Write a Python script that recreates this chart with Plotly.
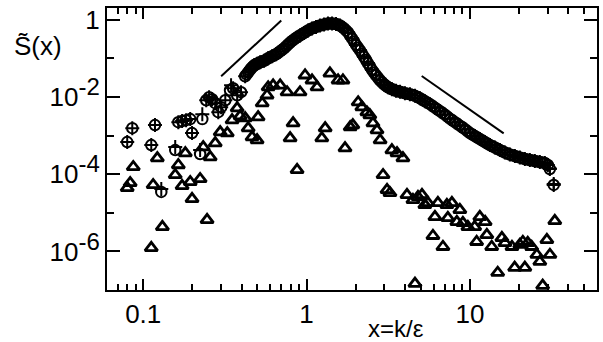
import plotly.graph_objects as go

# ---------------- data ----------------
# scattered low-x points of the circle series
circ_x_low = [0.0798, 0.0857, 0.112, 0.118, 0.129, 0.157, 0.164, 0.173, 0.183, 0.194,
              0.199, 0.223, 0.230, 0.243, 0.253, 0.264, 0.276, 0.288, 0.300, 0.318,
              0.340, 0.355, 0.376, 0.397]
circ_y_low = [0.000679, 0.00156, 0.000568, 0.00187, 3.48e-5, 0.000422, 0.00223, 0.00237, 0.00251, 0.00267,
              0.00116, 0.000333, 0.00267, 0.00824, 0.00986, 0.00875, 0.00690, 0.00404, 0.00544, 0.00824,
              0.0150, 0.0168, 0.0111, 0.0133]
# dense part of the circle series (read along the band)
circ_x_dense = [0.4206, 0.4387, 0.4576, 0.4774, 0.4980, 0.5195, 0.5496, 0.5814, 0.6152, 0.6509,
                0.6886, 0.7285, 0.7707, 0.8153, 0.8626, 0.9126, 0.9654, 1.021, 1.080, 1.143,
                1.209, 1.279, 1.353, 1.432, 1.515, 1.603, 1.696, 1.794, 1.898, 2.008,
                2.124, 2.247, 2.377, 2.515, 2.661, 2.815, 2.979, 3.151, 3.334, 3.527,
                3.732, 4.004, 4.295, 4.608, 4.946, 5.306, 5.692, 6.108, 6.554, 7.033,
                7.544, 8.093, 8.686, 9.320, 10.0, 10.73, 11.51, 12.35, 13.26, 14.22,
                15.26, 16.37, 17.57, 18.85, 20.22, 21.70, 23.28, 24.98, 26.80, 28.76,
                30.00, 30.86, 32.6]
circ_y_dense = [0.03436, 0.04357, 0.05529, 0.06607, 0.07224, 0.07898, 0.08636, 0.1002, 0.1128, 0.1271,
                0.1519, 0.1816, 0.2302, 0.2835, 0.3389, 0.3932, 0.4561, 0.5293, 0.5962, 0.6518,
                0.7125, 0.7561, 0.8025, 0.8025, 0.7790, 0.7125, 0.5962, 0.4699, 0.3290, 0.2235,
                0.1612, 0.1095, 0.07440, 0.05056, 0.03646, 0.02708, 0.02136, 0.01786, 0.01586, 0.01451,
                0.01367, 0.01251, 0.01178, 0.01078, 0.00929, 0.00777, 0.00650, 0.00528, 0.00429, 0.00348,
                0.00275, 0.00223, 0.00181, 0.00147, 0.00116, 0.000970, 0.000812, 0.000679, 0.000568, 0.000490,
                0.000422, 0.000364, 0.000323, 0.000295, 0.000270, 0.000247, 0.000233, 0.000219, 0.000207, 0.000195,
                0.000173, 0.000136, 5.27e-5]
circ_x_dense2 = [0.4295, 0.4480, 0.4674, 0.4876, 0.5087, 0.5342, 0.5652, 0.5980, 0.6327, 0.6694,
                 0.7082, 0.7493, 0.7925, 0.8385, 0.8872, 0.9386, 0.9929, 1.050, 1.111, 1.176,
                 1.244, 1.316, 1.392, 1.473, 1.558, 1.648, 1.744, 1.845, 1.952, 2.065,
                 2.185, 2.311, 2.445, 2.587, 2.737, 2.896, 3.063, 3.241, 3.429, 3.627,
                 3.866, 4.147, 4.449, 4.774, 5.122, 5.496, 5.897, 6.327, 6.789, 7.284,
                 7.816, 8.386, 8.998, 9.654, 10.36, 11.11, 11.93, 12.79, 13.73, 14.73,
                 15.81, 16.96, 18.20, 19.52, 20.95, 22.48, 24.12, 25.88, 27.77]
circ_y_dense2 = [0.03869, 0.04908, 0.06044, 0.06929, 0.07574, 0.08281, 0.09273, 0.1063, 0.1197, 0.1389,
                 0.1661, 0.2045, 0.2563, 0.3099, 0.3662, 0.4247, 0.4929, 0.5618, 0.6252, 0.6834,
                 0.7338, 0.7790, 0.8025, 0.7930, 0.7470, 0.6518, 0.5293, 0.3932, 0.2752, 0.1892,
                 0.1332, 0.09055, 0.06152, 0.04280, 0.03143, 0.02405, 0.01953, 0.01684, 0.01512, 0.01408,
                 0.01303, 0.01214, 0.01130, 0.01003, 0.00850, 0.00711, 0.00588, 0.00477, 0.00388, 0.00309,
                 0.00248, 0.00202, 0.00164, 0.00131, 0.00106, 0.000887, 0.000742, 0.000621, 0.000529, 0.000456,
                 0.000393, 0.000343, 0.000310, 0.000283, 0.000259, 0.000240, 0.000226, 0.000213, 0.000201]

# plus series: scattered low-x points (the rest sits on the circle band)
plus_x = [0.0798, 0.0857, 0.112, 0.118, 0.129, 0.157, 0.164, 0.173, 0.183, 0.194,
          0.199, 0.223, 0.230, 0.243, 0.253, 0.264, 0.276, 0.288, 0.300, 0.318,
          0.345, 0.355, 0.376, 0.397, 30.86, 32.6]
plus_y = [0.000679, 0.00156, 0.000568, 0.00187, 4.15e-5, 0.000505, 0.00223, 0.00237, 0.00251, 0.00267,
          0.00116, 0.000422, 0.00359, 0.00824, 0.00986, 0.00875, 0.00690, 0.00404, 0.00544, 0.00824,
          0.0201, 0.0168, 0.0111, 0.0133, 0.000140, 5.6e-5]

# triangle series
tri_x = [0.0869, 0.0832, 0.0798, 0.122, 0.115, 0.112, 0.131, 0.164, 0.157, 0.173,
         0.181, 0.194, 0.223, 0.199, 0.246, 0.257, 0.233, 0.276, 0.296, 0.327,
         0.350, 0.376, 0.421, 0.392, 0.439, 0.464, 0.498, 0.505, 0.535, 0.573,
         0.582, 0.624, 0.689, 0.760, 0.912, 0.979, 1.08, 1.16, 1.39, 1.56,
         1.67, 0.827, 0.793, 0.875, 1.30, 1.24, 1.72, 1.85, 1.92, 2.07,
         2.18, 2.34, 2.44, 2.55, 2.70, 2.82, 3.33, 3.58, 3.89, 2.94,
         3.11, 3.24, 4.12, 4.48, 4.81, 5.09, 5.30, 5.53, 6.37, 7.23,
         7.76, 8.68, 6.11, 7.33, 8.32, 9.06, 9.72, 10.7, 11.5, 12.4,
         5.94, 6.84, 11.0, 12.7, 13.6, 15.7, 16.4, 18.1, 20.2, 21.1,
         22.6, 23.9, 25.7, 26.8, 29.6, 30.9, 33.1, 14.8, 18.8, 21.7,
         4.61, 27.9]
tri_y = [0.000154, 5.93e-5, 4.41e-5, 0.000262, 5.27e-5, 1.24e-6, 4.34e-6, 0.000173, 9.55e-5, 4.97e-5,
         0.000353, 6.30e-5, 7.53e-5, 2.29e-5, 6.58e-6, 0.000278, 0.000505, 0.000640, 0.00123, 0.00116,
         0.00251, 0.00513, 0.00283, 0.00319, 0.00156, 0.000914, 0.000766, 0.00300, 0.00690, 0.0111,
         0.0179, 0.0201, 0.0201, 0.0133, 0.0133, 0.0365, 0.0271, 0.0179, 0.0411, 0.0271,
         0.0271, 0.00210, 0.000861, 0.000129, 0.00156, 0.000861, 0.000475, 0.00166, 0.00187, 0.00732,
         0.00544, 0.00404, 0.00338, 0.00210, 0.00139, 0.000766, 0.000422, 0.000353, 0.000262, 9.55e-5,
         3.92e-5, 3.27e-5, 2.91e-5, 2.16e-5, 2.58e-5, 2.91e-5, 1.60e-5, 1.81e-5, 1.81e-5, 1.60e-5,
         1.81e-5, 1.19e-5, 7.85e-6, 7.41e-6, 5.84e-6, 5.50e-6, 4.34e-6, 4.34e-6, 7.85e-6, 5.84e-6,
         2.54e-6, 1.32e-6, 1.78e-6, 2.69e-6, 1.32e-6, 2.25e-6, 1.67e-6, 1.32e-6, 1.49e-6, 1.78e-6,
         1.67e-6, 1.32e-6, 8.20e-7, 5.41e-7, 2.00e-6, 8.20e-7, 6.2e-6, 2.81e-7, 3.79e-7, 3.79e-7,
         1.46e-7, 1.30e-7]

# guide lines (power laws)
guide1_x = [0.30, 0.70]
guide1_y = [0.0344, 0.96]
guide2_x = [5.07, 16.1]
guide2_y = [0.035, 0.00114]

x_tickvals = [0.1, 1, 10]
x_ticktext = ["0.1", "1", "10"]
x_minor = [0.07, 0.08, 0.09, 0.2, 0.3, 0.4, 0.5, 0.6, 0.7, 0.8, 0.9,
           2, 3, 4, 5, 6, 7, 8, 9, 20, 30, 40, 50]
y_tickvals = [1, 1e-2, 1e-4, 1e-6]
y_exponents = ["-2", "-4", "-6"]
y_ticktext = ["1"] + ["10<sup><span style='font-size:24px'>%s</span></sup>" % e for e in y_exponents]
y_minor = [1e-1, 1e-3, 1e-5]

# ---------------- figure ----------------
FONT = "Liberation Sans, Arial, sans-serif"
fig = go.Figure()

for gx, gy in ((guide1_x, guide1_y), (guide2_x, guide2_y)):
    fig.add_trace(go.Scatter(x=gx, y=gy, mode="lines",
                             line=dict(color="black", width=2), showlegend=False))

fig.add_trace(go.Scatter(x=tri_x, y=tri_y, mode="markers",
                         marker=dict(symbol="triangle-up-open", size=11, color="black",
                                     line=dict(width=2.8, color="black")),
                         showlegend=False, cliponaxis=False))
fig.add_trace(go.Scatter(x=circ_x_low + circ_x_dense + circ_x_dense2,
                         y=circ_y_low + circ_y_dense + circ_y_dense2, mode="markers",
                         marker=dict(symbol="circle-open", size=10.5, color="black",
                                     line=dict(width=2, color="black")),
                         showlegend=False, cliponaxis=False))
fig.add_trace(go.Scatter(x=plus_x + circ_x_dense, y=plus_y + circ_y_dense, mode="markers",
                         marker=dict(symbol="cross-thin-open", size=10, color="black",
                                     line=dict(width=2, color="black")),
                         showlegend=False, cliponaxis=False))

axis_common = dict(type="log", showgrid=False, zeroline=False, showline=True,
                   linecolor="black", linewidth=2, mirror="ticks", automargin=False,
                   ticks="inside", tickcolor="black", tickwidth=2,
                   tickfont=dict(family=FONT, size=26, color="black"))

fig.update_xaxes(**axis_common, range=[-1.2218, 1.7782],
                 tickmode="array", tickvals=x_tickvals, ticktext=x_ticktext, ticklen=11,
                 minor=dict(tickmode="array", tickvals=x_minor, ticks="inside",
                            ticklen=6, tickwidth=2, tickcolor="black"))
fig.update_yaxes(**axis_common, range=[-7.0, 0.305],
                 tickmode="array", tickvals=y_tickvals, ticktext=y_ticktext, ticklen=13,
                 minor=dict(tickmode="array", tickvals=y_minor, ticks="inside",
                            ticklen=7, tickwidth=2, tickcolor="black"))

fig.add_annotation(text="x=k/ε", xref="paper", yref="paper", x=0.59, y=-0.137,
                   xanchor="center", yanchor="middle", showarrow=False,
                   font=dict(family=FONT, size=24, color="black"))
fig.add_annotation(text="S\u0303(x)", xref="paper", yref="paper", x=-0.141, y=0.865,
                   xanchor="center", yanchor="middle", showarrow=False,
                   font=dict(family=FONT, size=26, color="black"))

fig.update_layout(width=603, height=342, margin=dict(l=107, r=6, t=8, b=52),
                  paper_bgcolor="white", plot_bgcolor="white",
                  font=dict(family=FONT, color="black"))

fig.write_html("out.html", config={"displayModeBar": False},
               post_script="document.body.style.margin='0';document.body.style.overflow='hidden';")
